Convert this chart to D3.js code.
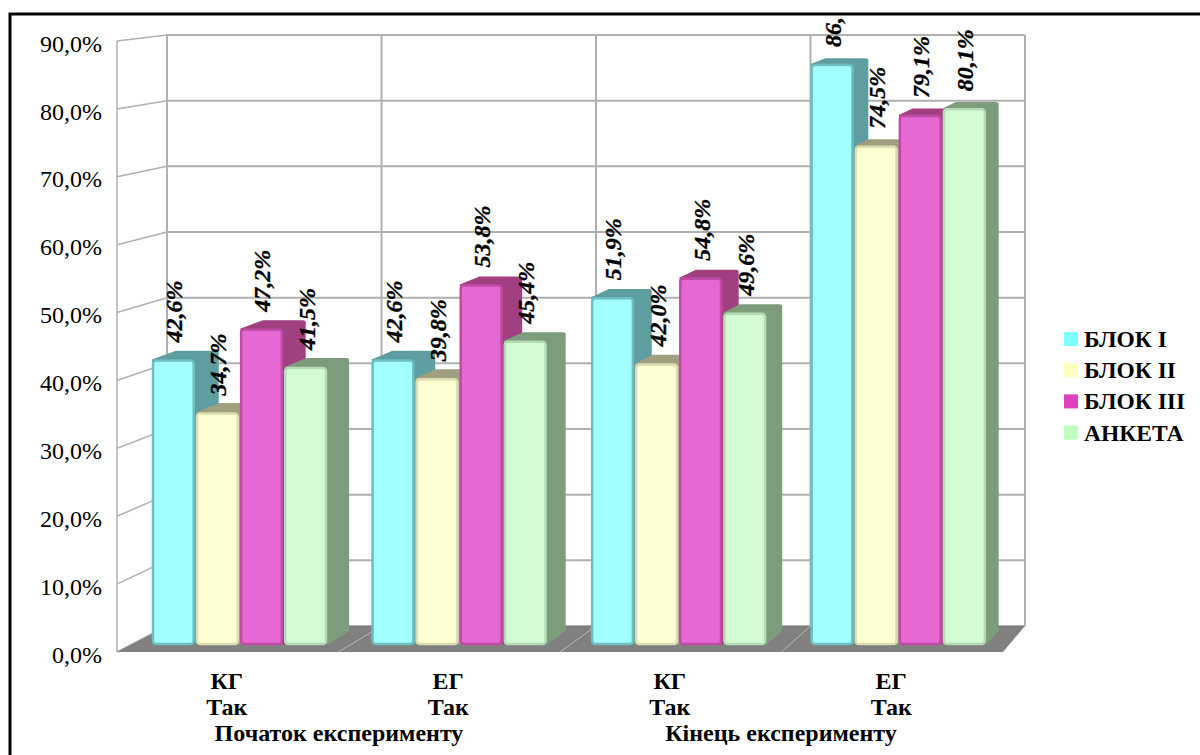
<!DOCTYPE html>
<html>
<head>
<meta charset="utf-8">
<script src="https://cdn.jsdelivr.net/npm/d3@7"></script>
<style>
html, body { margin: 0; padding: 0; background: #fff; }
svg { display: block; font-family: "Liberation Serif", serif; }
</style>
</head>
<body>
<svg id="chart" width="1200" height="755"></svg>
<script>
var groups = ["КГ Початок", "ЕГ Початок", "КГ Кінець", "ЕГ Кінець"];
var groupLine1 = ["КГ", "ЕГ", "КГ", "ЕГ"];
var groupLine2 = ["Так", "Так", "Так", "Так"];
var periods = ["Початок експерименту", "Кінець експерименту"];
var series = ["БЛОК І", "БЛОК ІІ", "БЛОК ІІІ", "АНКЕТА"];

var blockOne = [42.6, 42.6, 51.9, 86.7];
var blockTwo = [34.7, 39.8, 42.0, 74.5];
var blockThree = [47.2, 53.8, 54.8, 79.1];
var survey = [41.5, 45.4, 49.6, 80.1];
var seriesValues = [blockOne, blockTwo, blockThree, survey];

var yTicks = [0, 10, 20, 30, 40, 50, 60, 70, 80, 90];

var faceColors = ["#a2ffff", "#ffffd4", "#e668d2", "#d5fbd5"];
var sideColors = ["#5f9ea0", "#a0a080", "#a04080", "#7c9c7c"];
var edgeColors = ["#6cbfc0", "#dcdcb0", "#c04aa6", "#b4dcb4"];
var swatchColors = ["#80ffff", "#ffffc0", "#e040c0", "#c0ffc0"];

var svg = d3.select("#chart");

function pct(v) {
    return d3.format(".1f")(v).replace(".", ",") + "%";
}

// three sets of vertical scales: front of the side wall, back wall, bars
var yFront = d3.scaleLinear().domain([0, 90]).range([652, 41]);
var yBack = d3.scaleLinear().domain([0, 90]).range([626, 35]);
var yBar = d3.scaleLinear().domain([0, 90]).range([645, 42]);

var xFront = d3.scaleBand().domain(groups).range([117, 1003]);
var xBack = d3.scaleBand().domain(groups).range([167, 1025]);
var xGroup = d3.scaleBand().domain(groups).range([129.7, 1008]);
var xBar = d3.scaleBand().domain(series).range([0, 175]).paddingInner(0.03);

var gridColor = "#b0b0b0";
var walls = svg.append("g");

// back wall and floor
var backEdges = xBack.domain().map(function(g) { return xBack(g); }).concat([1025]);
var frontEdges = xFront.domain().map(function(g) { return xFront(g); }).concat([1003]);

walls.selectAll("line.back-y")
    .data(yTicks)
    .enter().append("line")
    .attr("x1", 167).attr("x2", 1025)
    .attr("y1", function(d) { return yBack(d); })
    .attr("y2", function(d) { return yBack(d); })
    .attr("stroke", gridColor).attr("stroke-width", 2);

walls.selectAll("line.back-x")
    .data(backEdges)
    .enter().append("line")
    .attr("x1", function(d) { return d; })
    .attr("x2", function(d) { return d; })
    .attr("y1", yBack(90)).attr("y2", yBack(0))
    .attr("stroke", gridColor).attr("stroke-width", 2);

// side wall
walls.selectAll("line.side-y")
    .data(yTicks)
    .enter().append("line")
    .attr("x1", 117).attr("x2", 167)
    .attr("y1", function(d) { return yFront(d); })
    .attr("y2", function(d) { return yBack(d); })
    .attr("stroke", gridColor).attr("stroke-width", 1.5);

walls.append("line")
    .attr("x1", 117).attr("x2", 117)
    .attr("y1", yFront(90)).attr("y2", yFront(0))
    .attr("stroke", gridColor).attr("stroke-width", 1.5);

walls.append("path")
    .attr("d", "M117," + yFront(0) + "L167," + yBack(0) + "L1025," + yBack(0) + "L1003," + yFront(0) + "Z")
    .attr("fill", "#808080");

walls.selectAll("line.floor-x")
    .data(d3.range(1, 4))
    .enter().append("line")
    .attr("x1", function(i) { return frontEdges[i]; })
    .attr("x2", function(i) { return backEdges[i]; })
    .attr("y1", yFront(0)).attr("y2", yBack(0))
    .attr("stroke", "#b8b8b8").attr("stroke-width", 1);

// tick labels on the left
var yAxis = d3.axisLeft(yFront)
    .tickValues(yTicks)
    .tickSize(0)
    .tickPadding(0)
    .tickFormat(pct);

svg.append("g")
    .attr("transform", "translate(102,2.5)")
    .call(yAxis)
    .call(function(g) { g.select(".domain").remove(); })
    .selectAll("text")
    .attr("font-family", "Liberation Serif")
    .attr("font-size", 24)
    .attr("fill", "#000");

// bar depth shrinks going right and up because of the perspective
function depthX(x) {
    return 24 - 0.0139 * (x - 194);
}
function depthY(y) {
    return 5.9 + 0.01 * (y - 64);
}

var bars = [];
groups.forEach(function(g, gi) {
    series.forEach(function(s, si) {
        bars.push({ group: g, series: s, si: si, value: seriesValues[si][gi] });
    });
});

var barG = svg.append("g");

bars.forEach(function(d) {
    var x0 = xGroup(d.group) + (xGroup.bandwidth() - 175) / 2 + xBar(d.series);
    var x1 = x0 + xBar.bandwidth();
    var top = yBar(d.value);
    var bottom = yBar(0);
    var dx = depthX(x1);
    var dy = depthY(top);

    // side and top share one dark shape
    barG.append("path")
        .attr("d", "M" + x1 + "," + bottom + "L" + (x1 + dx) + "," + (bottom - 14) +
            "L" + (x1 + dx) + "," + (top - dy + 2) + "Q" + (x1 + dx) + "," + (top - dy) + " " + (x1 + dx - 3) + "," + (top - dy) +
            "L" + (x0 + dx) + "," + (top - dy) + "L" + x0 + "," + top + "Z")
        .attr("fill", sideColors[d.si]);

    barG.append("rect")
        .attr("x", x0 + 1).attr("y", top + 1)
        .attr("width", x1 - x0 - 2).attr("height", bottom - top - 2)
        .attr("rx", 3)
        .attr("fill", faceColors[d.si])
        .attr("stroke", edgeColors[d.si])
        .attr("stroke-width", 2.5);
});

// value labels run upward and are cut off under the frame
svg.append("clipPath").attr("id", "labelClip")
    .append("rect").attr("x", 0).attr("y", 16).attr("width", 1200).attr("height", 739);

var labelG = svg.append("g").attr("clip-path", "url(#labelClip)");

labelG.selectAll("text")
    .data(bars)
    .enter().append("text")
    .attr("transform", function(d) {
        var x = xGroup(d.group) + (xGroup.bandwidth() - 175) / 2 + xBar(d.series) + xBar.bandwidth() / 2 + 1;
        return "translate(" + x + "," + (yBar(d.value) - 17) + ") rotate(-90)";
    })
    .attr("dy", "0.33em")
    .attr("font-size", 24)
    .attr("font-weight", "bold")
    .attr("font-style", "italic")
    .attr("fill", "#000")
    .attr("stroke", "#000")
    .attr("stroke-width", 0.3)
    .text(function(d) { return pct(d.value); });

// category labels
var catG = svg.append("g")
    .attr("font-size", 24)
    .attr("font-weight", "bold")
    .attr("text-anchor", "middle")
    .attr("fill", "#000");

catG.selectAll("text.line1")
    .data(groups)
    .enter().append("text")
    .attr("x", function(g) { return xFront(g) + xFront.bandwidth() / 2 - 1; })
    .attr("y", 689)
    .text(function(g, i) { return groupLine1[i]; });

catG.selectAll("text.line2")
    .data(groups)
    .enter().append("text")
    .attr("x", function(g) { return xFront(g) + xFront.bandwidth() / 2 - 1; })
    .attr("y", 715)
    .text(function(g, i) { return groupLine2[i]; });

catG.selectAll("text.period")
    .data(periods)
    .enter().append("text")
    .attr("x", function(p, i) { return i === 0 ? 339 : 781; })
    .attr("y", 741)
    .text(function(p) { return p; });

// legend
var legend = svg.append("g").selectAll("g")
    .data(series)
    .enter().append("g")
    .attr("transform", function(d, i) { return "translate(1064," + (332 + i * 31.2) + ")"; });

legend.append("rect")
    .attr("width", 14).attr("height", 14)
    .attr("fill", function(d, i) { return swatchColors[i]; });

legend.append("text")
    .attr("x", 20).attr("y", 15)
    .attr("font-size", 23.5)
    .attr("font-weight", "bold")
    .attr("fill", "#000")
    .text(function(d) { return d; });

// page frame
svg.append("path")
    .attr("d", "M10,755V14H1200")
    .attr("fill", "none")
    .attr("stroke", "#000")
    .attr("stroke-width", 3);
</script>
</body>
</html>
